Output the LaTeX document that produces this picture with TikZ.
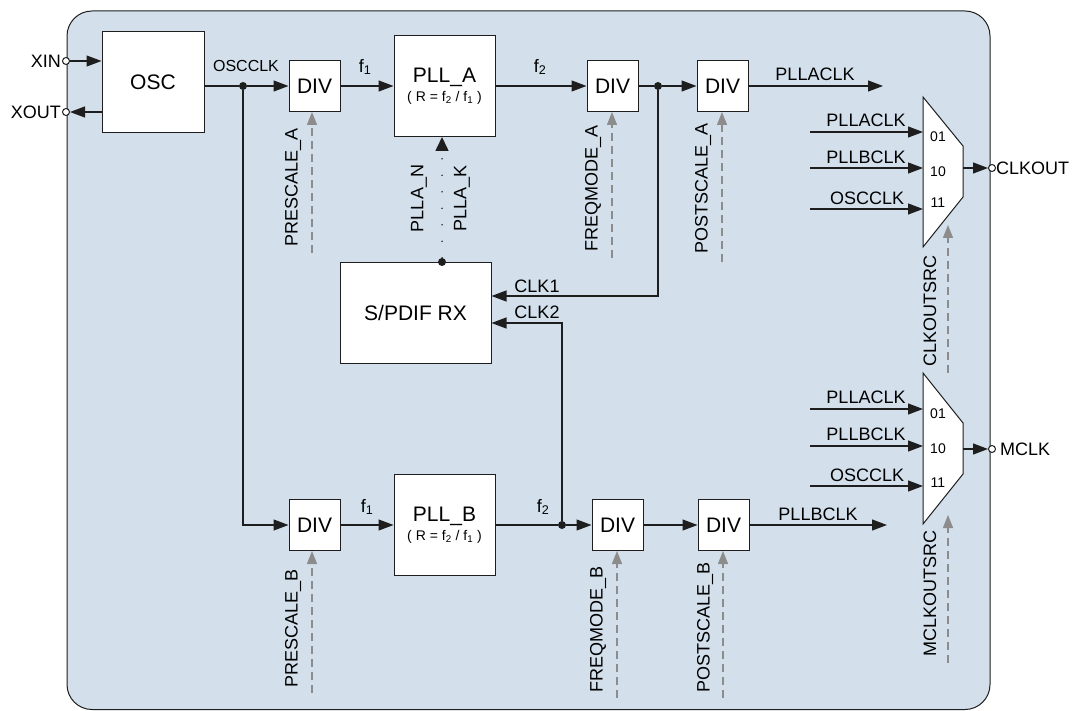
\documentclass[tikz,border=0pt]{standalone}
\usepackage{fontspec}
\setmainfont{Liberation Sans}
\usetikzlibrary{arrows.meta}
\definecolor{bgblue}{RGB}{211,224,235}
\definecolor{ctrlgray}{RGB}{140,140,140}
\definecolor{ink}{RGB}{30,30,30}
\begin{document}
\begin{tikzpicture}[x=1pt,y=-1pt,
  box/.style={draw=ink, fill=white, line width=1pt, inner sep=0pt, font=\fontsize{21}{24}\selectfont},
  divbox/.style={box, minimum width=51pt, minimum height=51pt},
  pllbox/.style={box, minimum width=101pt, minimum height=101pt, align=center},
  wire/.style={draw=ink, line width=1.2pt},
  sig/.style={wire, -{Triangle[length=15pt,width=11pt]}},
  ctrl/.style={draw=ctrlgray, line width=1.4pt, dash pattern=on 8pt off 5pt, -{Triangle[length=13pt,width=10pt]}},
  lbl/.style={font=\fontsize{18}{20}\selectfont, inner sep=0pt},
  smlbl/.style={font=\fontsize{16}{18}\selectfont, inner sep=0pt},
  numlbl/.style={font=\fontsize{14}{16}\selectfont, inner sep=0pt},
  vlbl/.style={lbl, rotate=90},
  jdot/.style={circle, fill=ink, inner sep=0pt, minimum size=8pt},
  term/.style={circle, draw=ink, fill=white, inner sep=0pt, minimum size=7pt, line width=1pt},
  muxshape/.style={draw=ink, fill=white, line width=1pt}
]
\useasboundingbox (0,0) rectangle (1083,711);
% outer panel
\draw[fill=bgblue, draw=ink, line width=1pt, rounded corners=25pt] (67,11) rectangle (990,709.5);

% OSC
\node[box, minimum width=102pt, minimum height=101pt] (osc) at (153,82.5) {OSC};
\node[term] (xin) at (66,61) {};
\node[term] (xout) at (66,112) {};
\node[lbl, anchor=east] (xinlbl) at ([xshift=-1pt]xin.west) {XIN};
\node[lbl, anchor=east] (xoutlbl) at ([xshift=-1pt]xout.west) {XOUT};
\draw[sig] (xin) -- (xin -| osc.west);
\draw[sig] (xout -| osc.west) -- (xout);

% top chain
\node[jdot] (d1) at (243,86) {};
\node[divbox] (diva1) at (314.5,86) {DIV};
\node[pllbox] (pllA) at (444.5,86) {PLL\_A\\[-5pt]{\fontsize{14}{16}\selectfont( R = f\textsubscript{2} / f\textsubscript{1} )}};
\node[divbox] (diva2) at (612.5,86) {DIV};
\node[jdot] (d2) at (658,86) {};
\node[divbox] (diva3) at (722.5,86) {DIV};
\coordinate (paend) at (883,86);

\draw[wire] (osc.east |- d1) -- (d1);
\draw[sig] (d1) -- (diva1.west);
\draw[sig] (diva1.east) -- (pllA.west |- diva1.east);
\draw[sig] (pllA.east |- diva2.west) -- (diva2.west);
\draw[wire] (diva2.east) -- (d2);
\draw[sig] (d2) -- (diva3.west);
\draw[sig] (diva3.east) -- (paend);

\node[smlbl] (osccklbl) at (246,66) {OSCCLK};
\node[lbl] (f1a) at (365,67) {f\textsubscript{1}};
\node[lbl] (f2a) at (540,67) {f\textsubscript{2}};
\node[lbl] (pllaclklbl) at (815,74) {PLLACLK};

% S/PDIF
\node[box, minimum width=151pt, minimum height=101pt] (spdif) at (415.5,312.5) {S/PDIF RX};
\node[jdot] (d3) at (442,262) {};
\draw[draw=ink, line width=1.6pt, line cap=round, dash pattern=on 0pt off 16.5pt, -{Triangle[length=14pt,width=13pt]}] (d3) -- (d3 |- pllA.south);
\node[vlbl] (plln) at (419,198.5) {PLLA\_N};
\node[vlbl] (pllk) at (462,198.5) {PLLA\_K};

\draw[sig] (d2) |- ([yshift=16.5pt]spdif.east);
\node[lbl] (clk1) at (537,286) {CLK1};
\node[lbl] (clk2) at (537,312) {CLK2};

% bottom chain
\node[divbox] (divb1) at (314.5,525) {DIV};
\node[pllbox] (pllB) at (444.5,525) {PLL\_B\\[-5pt]{\fontsize{14}{16}\selectfont( R = f\textsubscript{2} / f\textsubscript{1} )}};
\node[jdot] (d4) at (562,525) {};
\node[divbox] (divb2) at (617.5,525) {DIV};
\node[divbox] (divb3) at (723.5,525) {DIV};
\coordinate (pbend) at (887,525);

\draw[sig] (d1) |- (divb1.west);
\draw[sig] (divb1.east) -- (pllB.west |- divb1.east);
\draw[wire] (pllB.east |- d4) -- (d4);
\draw[sig] (d4) -- (divb2.west);
\draw[sig] (divb2.east) -- (divb3.west);
\draw[sig] (divb3.east) -- (pbend);
\draw[sig] (d4) |- ([yshift=-10.5pt]spdif.east);

\node[lbl] (f1b) at (367,507) {f\textsubscript{1}};
\node[lbl] (f2b) at (543,507) {f\textsubscript{2}};
\node[lbl] (pllbclklbl) at (818,514) {PLLBCLK};

% control arrows (top)
\coordinate (cpa) at (312,253);
\coordinate (cfa) at (612,258);
\coordinate (cqa) at (722,262);
\draw[ctrl] (cpa) -- (cpa |- diva1.south);
\draw[ctrl] (cfa) -- (cfa |- diva2.south);
\draw[ctrl] (cqa) -- (cqa |- diva3.south);
\node[vlbl] (lpa) at (293,187.5) {PRESCALE\_A};
\node[vlbl] (lfa) at (593,188.5) {FREQMODE\_A};
\node[vlbl] (lqa) at (703,188.5) {POSTSCALE\_A};

% control arrows (bottom)
\coordinate (cpb) at (312,693);
\coordinate (cfb) at (617,698);
\coordinate (cqb) at (723,698);
\draw[ctrl] (cpb) -- (cpb |- divb1.south);
\draw[ctrl] (cfb) -- (cfb |- divb2.south);
\draw[ctrl] (cqb) -- (cqb |- divb3.south);
\node[vlbl] (lpb) at (293,628.5) {PRESCALE\_B};
\node[vlbl] (lfb) at (598,629) {FREQMODE\_B};
\node[vlbl] (lqb) at (705,627.5) {POSTSCALE\_B};

% MUX 1
\draw[muxshape] (923,97) -- (963,146) -- (963,197) -- (923,247) -- cycle;
\coordinate (m1i1) at (923,132);
\coordinate (m1i2) at (923,168);
\coordinate (m1i3) at (923,209);
\coordinate (m1o) at (963,168);
\coordinate (s1i1) at (810,132);
\coordinate (s1i2) at (810,168);
\coordinate (s1i3) at (810,209);
\draw[sig] (s1i1) -- (m1i1);
\draw[sig] (s1i2) -- (m1i2);
\draw[sig] (s1i3) -- (m1i3);
\node[lbl] (m1l1) at (866,120) {PLLACLK};
\node[lbl] (m1l2) at (866,157) {PLLBCLK};
\node[lbl] (m1l3) at (867,198) {OSCCLK};
\node[numlbl] (m1n1) at (938,137) {01};
\node[numlbl] (m1n2) at (938,172) {10};
\node[numlbl] (m1n3) at (938,203) {11};
\node[term] (clkout) at (992,168) {};
\draw[sig] (m1o) -- (clkout.west);
\node[lbl, anchor=west] (clkoutlbl) at (clkout.east) {CLKOUT};
\coordinate (cm1) at (948,373);
\coordinate (cm1t) at (948,225);
\draw[ctrl] (cm1) -- (cm1t);
\node[vlbl] (lm1) at (930,311) {CLKOUTSRC};

% MUX 2
\draw[muxshape] (923,373) -- (963,423) -- (963,474) -- (923,524) -- cycle;
\coordinate (m2i1) at (923,409);
\coordinate (m2i2) at (923,446);
\coordinate (m2i3) at (923,486);
\coordinate (m2o) at (963,449);
\coordinate (s2i1) at (810,409);
\coordinate (s2i2) at (810,446);
\coordinate (s2i3) at (810,486);
\draw[sig] (s2i1) -- (m2i1);
\draw[sig] (s2i2) -- (m2i2);
\draw[sig] (s2i3) -- (m2i3);
\node[lbl] (m2l1) at (866,397) {PLLACLK};
\node[lbl] (m2l2) at (866,434) {PLLBCLK};
\node[lbl] (m2l3) at (867,475) {OSCCLK};
\node[numlbl] (m2n1) at (938,414) {01};
\node[numlbl] (m2n2) at (938,449) {10};
\node[numlbl] (m2n3) at (938,483) {11};
\node[term] (mclk) at (992,449) {};
\draw[sig] (m2o) -- (mclk.west);
\node[lbl, anchor=west] (mclklbl) at ([xshift=4pt]mclk.east) {MCLK};
\coordinate (cm2) at (948,663);
\coordinate (cm2t) at (948,515);
\draw[ctrl] (cm2) -- (cm2t);
\node[vlbl] (lm2) at (930,593) {MCLKOUTSRC};
\end{tikzpicture}
\end{document}
